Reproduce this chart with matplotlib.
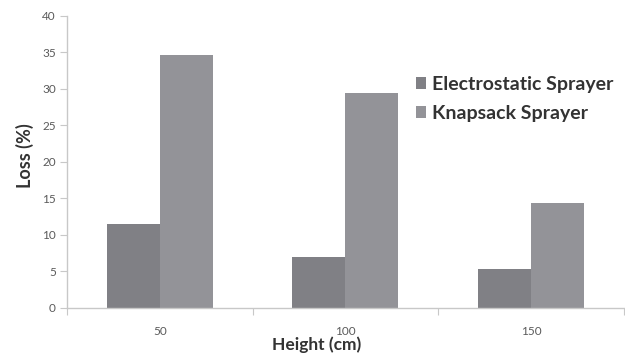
import matplotlib
matplotlib.use("Agg")
import matplotlib.pyplot as plt
import numpy as np

heights = ["50", "100", "150"]
electrostatic = [11.5, 7.0, 5.3]
knapsack = [34.6, 29.4, 14.3]
series_names = ["Electrostatic Sprayer", "Knapsack Sprayer"]

plt.rcParams["font.family"] = ["Lato", "DejaVu Sans"]

fig = plt.figure(figsize=(6.25, 3.54), dpi=100)
ax = fig.add_axes([0.1072, 0.130, 0.8908, 0.8257])

x = np.arange(len(heights)) + 0.5
w = 0.285
b1 = ax.bar(x - w / 2, electrostatic, w, color="#808085", label=series_names[0])
b2 = ax.bar(x + w / 2, knapsack, w, color="#939398", label=series_names[1])

ax.set_xlim(0, len(heights))
ax.set_ylim(0, 40)
ax.set_yticks(np.arange(0, 41, 5))

# category boundaries get tick marks, labels sit in the middle
ax.set_xticks(np.arange(len(heights) + 1))
ax.set_xticklabels([])
ax.set_xticks(x, minor=True)
ax.set_xticklabels(heights, minor=True)
ax.tick_params(axis="x", which="major", length=5, color="#c8c8c8", direction="out")
ax.tick_params(axis="x", which="minor", length=0, pad=13, labelsize=8.5, labelcolor="#5a5a5a")
ax.tick_params(axis="y", length=5, color="#c8c8c8", labelsize=8.5, labelcolor="#5a5a5a", pad=3)

for side in ["top", "right"]:
    ax.spines[side].set_visible(False)
for side in ["left", "bottom"]:
    ax.spines[side].set_color("#c8c8c8")
    ax.spines[side].set_linewidth(1.0)

fig.text(0.04, 0.56, "Loss (%)", rotation=90, ha="center", va="center",
         fontsize=13, fontweight="bold", color="#333333")
fig.text(0.507, 0.003, "Height (cm)", ha="center", va="bottom",
         fontsize=12.5, fontweight="bold", color="#333333")

leg = ax.legend(handles=[b1, b2], loc="upper left", bbox_to_anchor=(0.637, 0.835),
                bbox_transform=fig.transFigure, frameon=False, handlelength=0.55,
                handleheight=0.55, handletextpad=0.3, labelspacing=0.6,
                prop={"weight": "bold", "size": 14})
for t in leg.get_texts():
    t.set_color("#333333")

fig.savefig("out.png", dpi=100)
